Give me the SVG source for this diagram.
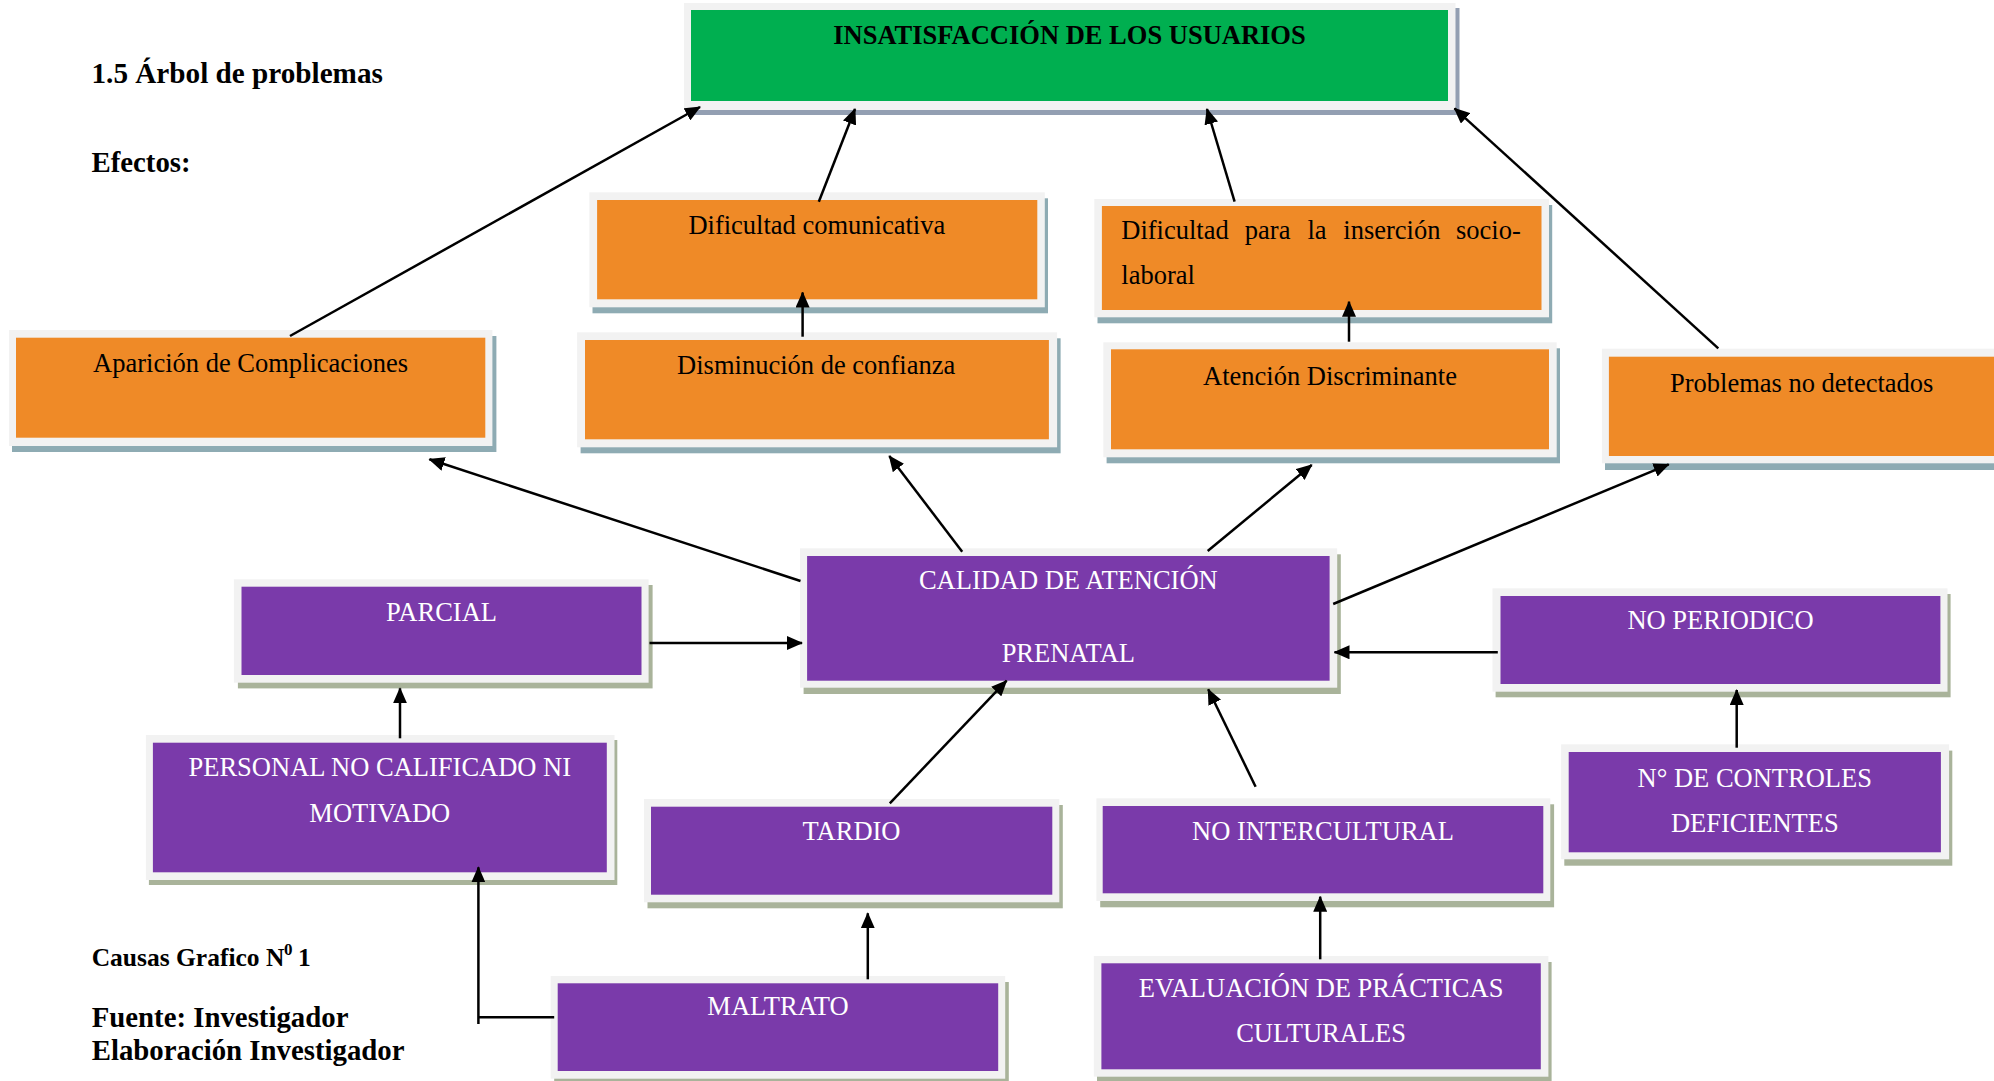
<svg xmlns="http://www.w3.org/2000/svg" width="1994" height="1081" viewBox="0 0 1994 1081">
<defs>
<style>
.t{font-family:"Liberation Serif","Times New Roman",serif;font-size:26.5px;}
.b{font-weight:bold;}
.w{fill:#ffffff;}
.k{fill:#000000;}
.fr{fill:#f2f2f2;}
.so{fill:#8eabb3;}
.sp{fill:#a9b39a;}
.sg{fill:#939fb2;}
.or{fill:#ef8a27;}
.pu{fill:#7a3aaa;}
.gr{fill:#00af50;}
.ln{stroke:#000;stroke-width:2.5;fill:none;marker-end:url(#ah);}
.ln2{stroke:#000;stroke-width:2.5;fill:none;}
</style>
<marker id="ah" markerUnits="userSpaceOnUse" markerWidth="16" markerHeight="14" viewBox="0 0 16 14" refX="15" refY="7" orient="auto">
<path d="M0,0 L16,7 L0,14 z" fill="#000"/>
</marker>
</defs>
<rect width="1994" height="1081" fill="#ffffff"/>

<g id="labels">
<text class="t b k" x="91.5" y="83" style="font-size:29.2px">1.5 Árbol de problemas</text>
<text class="t b k" x="91.5" y="171.5" style="font-size:28.8px">Efectos:</text>
<text class="t b k" x="91.7" y="966" style="font-size:25.5px">Causas Grafico N<tspan x="284" y="955" style="font-size:17px">0</tspan><tspan x="298" y="966">1</tspan></text>
<text class="t b k" x="91.7" y="1026.5" style="font-size:28.8px">Fuente: Investigador</text>
<text class="t b k" x="91.7" y="1060" style="font-size:28.8px">Elaboración Investigador</text>
</g>

<g id="n-insatisfaccion">
<rect class="sg" x="688" y="8" width="771.5" height="107"/>
<rect class="fr" x="684" y="3" width="771.5" height="107"/>
<rect class="gr" x="691" y="10" width="757" height="91"/>
<text class="t b k" x="1069.5" y="44.3" text-anchor="middle">INSATISFACCIÓN DE LOS USUARIOS</text>
</g>

<g id="n-aparicion">
<rect class="so" x="12" y="336" width="484.4" height="116"/>
<rect class="fr" x="9" y="330" width="483.4" height="116"/>
<rect class="or" x="16" y="337.7" width="469.3" height="100"/>
<text class="t k" x="250.6" y="371.7" text-anchor="middle">Aparición de Complicaciones</text>
</g>

<g id="n-dificultad-comunicativa">
<rect class="so" x="592.5" y="198.3" width="455.5" height="115"/>
<rect class="fr" x="589.3" y="192.3" width="455.5" height="115"/>
<rect class="or" x="597.1" y="200" width="440.2" height="99.3"/>
<text class="t k" x="816.8" y="234.3" text-anchor="middle">Dificultad comunicativa</text>
</g>

<g id="n-dificultad-insercion">
<rect class="so" x="1097.5" y="205" width="454.7" height="118.3"/>
<rect class="fr" x="1094.3" y="199" width="454.7" height="118.3"/>
<rect class="or" x="1101.9" y="206" width="439.6" height="104"/>
<text class="t k" y="239.3"><tspan x="1121.3">Dificultad</tspan><tspan x="1244.8">para</tspan><tspan x="1307.5">la</tspan><tspan x="1343.3">inserción</tspan><tspan x="1456">socio-</tspan></text>
<text class="t k" x="1121.3" y="284">laboral</text>
</g>

<g id="n-disminucion">
<rect class="so" x="580.6" y="338.3" width="480" height="115"/>
<rect class="fr" x="577.1" y="332.3" width="480" height="115"/>
<rect class="or" x="585" y="340" width="463.9" height="99.3"/>
<text class="t k" x="816.2" y="374.3" text-anchor="middle">Disminución de confianza</text>
</g>

<g id="n-atencion">
<rect class="so" x="1106.6" y="348.3" width="453.4" height="115"/>
<rect class="fr" x="1103.3" y="342.3" width="453.4" height="115"/>
<rect class="or" x="1111" y="349.3" width="438" height="100"/>
<text class="t k" x="1330" y="385" text-anchor="middle">Atención Discriminante</text>
</g>

<g id="n-problemas">
<rect class="so" x="1605" y="355" width="400" height="115"/>
<rect class="fr" x="1601.9" y="348.7" width="400" height="114.6"/>
<rect class="or" x="1608.9" y="356.7" width="400" height="99.3"/>
<text class="t k" x="1801.7" y="391.7" text-anchor="middle">Problemas no detectados</text>
</g>

<g id="n-calidad">
<rect class="sp" x="803.6" y="554.3" width="537.2" height="139.7"/>
<rect class="fr" x="800" y="548.3" width="537.2" height="139.4"/>
<rect class="pu" x="807.1" y="556" width="522.5" height="124.7"/>
<text class="t w" x="1068.3" y="589.3" text-anchor="middle">CALIDAD DE ATENCIÓN</text>
<text class="t w" x="1068.3" y="661.7" text-anchor="middle">PRENATAL</text>
</g>

<g id="n-parcial">
<rect class="sp" x="237.9" y="585" width="414.7" height="103.4"/>
<rect class="fr" x="233.9" y="579.3" width="414.7" height="103.4"/>
<rect class="pu" x="241.5" y="586.7" width="400" height="88.3"/>
<text class="t w" x="441.5" y="621" text-anchor="middle">PARCIAL</text>
</g>

<g id="n-personal">
<rect class="sp" x="148.9" y="740" width="468.4" height="145"/>
<rect class="fr" x="145.9" y="735" width="468.6" height="145"/>
<rect class="pu" x="152.9" y="742.7" width="453.9" height="129.6"/>
<text class="t w" x="379.8" y="776" text-anchor="middle">PERSONAL NO CALIFICADO NI</text>
<text class="t w" x="379.8" y="822" text-anchor="middle">MOTIVADO</text>
</g>

<g id="n-tardio">
<rect class="sp" x="647.5" y="805" width="415.3" height="103.3"/>
<rect class="fr" x="644" y="799" width="415.3" height="103.3"/>
<rect class="pu" x="651" y="806.7" width="401.3" height="88"/>
<text class="t w" x="851.5" y="840" text-anchor="middle">TARDIO</text>
</g>

<g id="n-maltrato">
<rect class="sp" x="554.2" y="982" width="454.6" height="102.7"/>
<rect class="fr" x="550.7" y="976" width="454.5" height="102.7"/>
<rect class="pu" x="557.7" y="983.3" width="440.5" height="87.7"/>
<text class="t w" x="778" y="1015" text-anchor="middle">MALTRATO</text>
</g>

<g id="n-intercultural">
<rect class="sp" x="1100.2" y="804.3" width="453.9" height="103"/>
<rect class="fr" x="1096.4" y="798.3" width="453.9" height="102.7"/>
<rect class="pu" x="1102.7" y="806" width="440.6" height="87.3"/>
<text class="t w" x="1323" y="840" text-anchor="middle">NO INTERCULTURAL</text>
</g>

<g id="n-evaluacion">
<rect class="sp" x="1097" y="962" width="454.6" height="120.7"/>
<rect class="fr" x="1093.8" y="956" width="454.6" height="120.7"/>
<rect class="pu" x="1101.4" y="963.3" width="439.4" height="106"/>
<text class="t w" x="1321.1" y="996.7" text-anchor="middle">EVALUACIÓN DE PRÁCTICAS</text>
<text class="t w" x="1321.1" y="1042.3" text-anchor="middle">CULTURALES</text>
</g>

<g id="n-controles">
<rect class="sp" x="1564.3" y="750.6" width="388" height="115.1"/>
<rect class="fr" x="1561.1" y="744.3" width="388" height="115"/>
<rect class="pu" x="1568.7" y="752" width="372.2" height="100.3"/>
<text class="t w" x="1754.8" y="787.3" text-anchor="middle">N° DE CONTROLES</text>
<text class="t w" x="1754.8" y="831.7" text-anchor="middle">DEFICIENTES</text>
</g>

<g id="n-periodico">
<rect class="sp" x="1495.6" y="594" width="455" height="103.3"/>
<rect class="fr" x="1492.5" y="588.3" width="455" height="103.4"/>
<rect class="pu" x="1500.5" y="596" width="439.9" height="88"/>
<text class="t w" x="1720.5" y="629.3" text-anchor="middle">NO PERIODICO</text>
</g>

<g id="connectors">
<line class="ln" x1="290" y1="336" x2="700" y2="107"/>
<line class="ln" x1="818.8" y1="201.7" x2="855" y2="109"/>
<line class="ln" x1="1234.6" y1="201.7" x2="1207" y2="109"/>
<line class="ln" x1="1718.3" y1="348.3" x2="1454.5" y2="108.3"/>
<line class="ln" x1="802.6" y1="336.7" x2="802.6" y2="292.5"/>
<line class="ln" x1="1349" y1="341.7" x2="1349" y2="301.7"/>
<line class="ln" x1="800.5" y1="581" x2="429.4" y2="459.3"/>
<line class="ln" x1="962.2" y1="551.7" x2="889.3" y2="456"/>
<line class="ln" x1="1207.7" y1="551" x2="1311.7" y2="465"/>
<line class="ln" x1="1333.2" y1="604" x2="1668.7" y2="464.3"/>
<line class="ln" x1="649.5" y1="643" x2="802" y2="643"/>
<line class="ln" x1="1497.8" y1="652.3" x2="1334.5" y2="652.3"/>
<line class="ln" x1="400" y1="738.3" x2="400" y2="688.3"/>
<line class="ln" x1="889.8" y1="803.3" x2="1006.6" y2="680.7"/>
<line class="ln" x1="1255.6" y1="786.7" x2="1208.2" y2="689.3"/>
<line class="ln" x1="1736.7" y1="747.7" x2="1736.7" y2="690"/>
<line class="ln" x1="867.8" y1="979.3" x2="867.8" y2="913.3"/>
<line class="ln" x1="1320.2" y1="959.3" x2="1320.2" y2="896.7"/>
<line class="ln2" x1="554.2" y1="1017.3" x2="478.4" y2="1017.3"/>
<line class="ln" x1="478.4" y1="1024" x2="478.4" y2="867.3"/>
</g>
</svg>
